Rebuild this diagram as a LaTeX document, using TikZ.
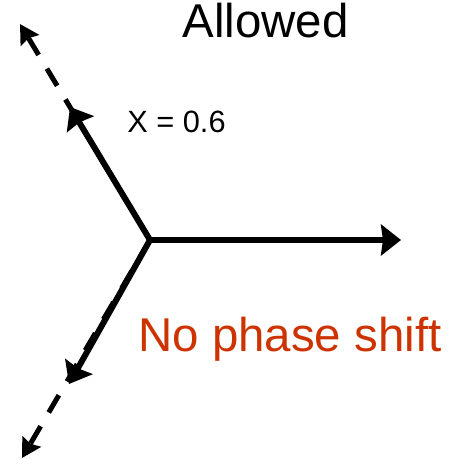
\documentclass[tikz,border=0pt]{standalone}
\usepackage{fontspec}
\setmainfont{Liberation Sans}
\usepackage{tikz}
\usetikzlibrary{arrows.meta, positioning}
\definecolor{shiftred}{RGB}{204,51,0}

\begin{document}
\begin{tikzpicture}[
  vec/.style={line width=0.12cm, -{Stealth[length=0.40cm, width=0.62cm, inset=0.04cm]}},
  ghost/.style={line width=0.10cm, dash pattern=on 0.40cm off 0.32cm, -{Stealth[length=0.38cm, width=0.42cm, inset=0.05cm]}},
  title/.style={font=\fontsize{27}{31}\selectfont, anchor=base west, inner sep=0pt},
  small/.style={font=\fontsize{17.5}{20}\selectfont, anchor=base west, inner sep=0pt}
]
\useasboundingbox (0,0) rectangle (8.98,9.18);

% Origin and tips
\coordinate (o) at (3.00, 4.38);
\coordinate (right) at (8.02, 4.38);
\coordinate (upper) at (1.40, 7.04);
\coordinate (upperfar) at (0.40, 8.70);
\coordinate (lower) at (1.38, 1.50);
\coordinate (lowerfar) at (0.44, 0.02);

% Dashed continuations
\draw[ghost] (o) -- (upperfar);
\draw[ghost] (o) -- (lowerfar);

% Solid vectors
\draw[vec] (o) -- (right);
\draw[vec] (o) -- (upper);
\draw[vec] (o) -- (lower);

% Labels
\node[title] (allowed) at (3.64, 8.42) {Allowed};
\node[small] (xval) at (2.54, 6.52) {X = 0.6};
\node[title, shiftred] (noshift) at (2.76, 2.14) {No phase shift};

\end{tikzpicture}
\end{document}
